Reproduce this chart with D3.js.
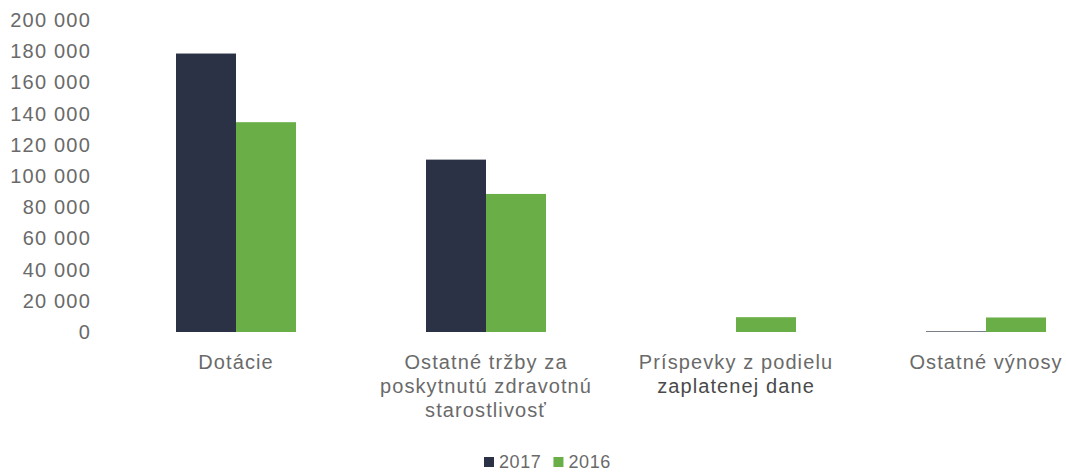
<!DOCTYPE html>
<html>
<head>
<meta charset="utf-8">
<script src="https://cdn.jsdelivr.net/npm/d3@7"></script>
<style>
  body { margin: 0; background: #fff; }
  svg { display: block; }
  .tick text { font-family: "Liberation Sans", Arial, sans-serif; fill: #6a6a6a; }
</style>
</head>
<body>
<svg id="chart" width="1066" height="473"></svg>
<script>
// chart data
var categories = ["Dotácie", "Ostatné tržby za poskytnutú zdravotnú starostlivosť",
                  "Príspevky z podielu zaplatenej dane", "Ostatné výnosy"];
var labelLines = [["Dotácie"],
                  ["Ostatné tržby za", "poskytnutú zdravotnú", "starostlivosť"],
                  ["Príspevky z podielu", "zaplatenej dane"],
                  ["Ostatné výnosy"]];
var series = ["2017", "2016"];
var values2017 = [178500, 110500, 0, 400];
var values2016 = [134500, 88500, 9500, 9300];
var yTicks = [0, 20000, 40000, 60000, 80000, 100000, 120000, 140000, 160000, 180000, 200000];
var colors = ["#2c3246", "#6aae48"];

var svg = d3.select("#chart");

var locale = d3.formatLocale({decimal: ",", thousands: " ", grouping: [3], currency: ["", ""]});
var fmt = locale.format(",d");

var y = d3.scaleLinear().domain([0, 200000]).range([332, 20]);
var x0 = d3.scaleBand().domain(categories).range([111, 1111]);
var x1 = d3.scaleBand().domain(series).range([65, 185]);
var color = d3.scaleOrdinal().domain(series).range(colors);

// y axis, labels only
var yAxis = svg.append("g")
    .attr("transform", "translate(98,0)")
    .call(d3.axisLeft(y).tickValues(yTicks).tickFormat(fmt).tickSize(0).tickPadding(7));
yAxis.select(".domain").remove();
yAxis.selectAll("text").style("font-size", "20px").style("letter-spacing", "1.2px");

// bars
var rows = categories.map(function(c, i) {
  return {cat: c, vals: [{s: "2017", v: values2017[i]}, {s: "2016", v: values2016[i]}]};
});

var groups = svg.selectAll(".cat").data(rows).enter().append("g")
    .attr("class", "cat")
    .attr("transform", function(d) { return "translate(" + x0(d.cat) + ",0)"; });

groups.selectAll("rect").data(function(d) { return d.vals; }).enter().append("rect")
    .attr("x", function(d) { return x1(d.s); })
    .attr("width", x1.bandwidth())
    .attr("y", function(d) { return y(d.v); })
    .attr("height", function(d) { return y(0) - y(d.v); })
    .attr("fill", function(d) { return color(d.s); });

// category labels
groups.each(function(d, i) {
  var t = d3.select(this).append("text")
      .attr("x", x0.bandwidth() / 2)
      .attr("y", 369)
      .attr("text-anchor", "middle")
      .style("font-family", "'Liberation Sans', Arial, sans-serif")
      .style("font-size", "20px")
      .style("letter-spacing", "1.1px")
      .style("fill", "#6a6a6a");
  labelLines[i].forEach(function(line, j) {
    t.append("tspan")
      .attr("x", x0.bandwidth() / 2)
      .attr("dy", j == 0 ? 0 : 24)
      .style("fill", (i == 2 && j == 1) ? "#4a4a4a" : null)
      .text(line);
  });
});

// legend
var legend = svg.append("g").attr("transform", "translate(484,457)");
var lx = 0;
series.forEach(function(s) {
  legend.append("rect").attr("x", lx).attr("y", 0).attr("width", 10).attr("height", 10)
      .attr("fill", color(s));
  var txt = legend.append("text").attr("x", lx + 15).attr("y", 10.5)
      .style("font-family", "'Liberation Sans Narrow', 'Liberation Sans', Arial, sans-serif")
      .style("font-size", "18px")
      .style("letter-spacing", "0.6px")
      .style("fill", "#6a6a6a")
      .text(s);
  lx += 15 + txt.node().getComputedTextLength() + 12;
});
</script>
</body>
</html>
